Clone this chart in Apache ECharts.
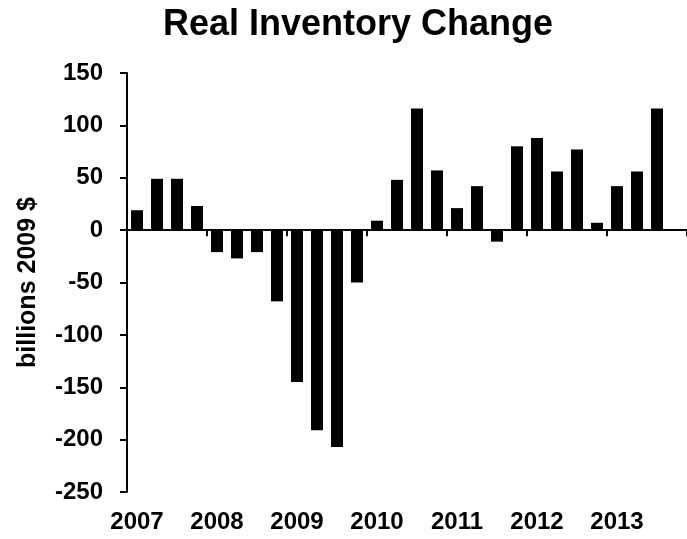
<!DOCTYPE html>
<html>
<head>
<meta charset="utf-8">
<script src="https://cdn.jsdelivr.net/npm/echarts@6/dist/echarts.min.js"></script>
<style>
html,body{margin:0;padding:0;background:#fff;}
#c{width:687px;height:539px;}
</style>
</head>
<body>
<div id="c"></div>
<script>
var quarters = ['2007Q1','2007Q2','2007Q3','2007Q4','2008Q1','2008Q2','2008Q3','2008Q4',
  '2009Q1','2009Q2','2009Q3','2009Q4','2010Q1','2010Q2','2010Q3','2010Q4',
  '2011Q1','2011Q2','2011Q3','2011Q4','2012Q1','2012Q2','2012Q3','2012Q4',
  '2013Q1','2013Q2','2013Q3','2013Q4'];
var inventoryChange = [19, 49, 49, 23, -21, -27, -21, -68,
  -145, -191, -207, -50, 9, 48, 116, 57,
  21, 42, -11, 80, 88, 56, 77, 7,
  42, 56, 116, null];
var yearLabels = ['2007','2008','2009','2010','2011','2012','2013'];
var yTicks = [-250, -200, -150, -100, -50, 0, 50, 100, 150];

var FONT = '"Liberation Sans", Arial, sans-serif';
var chart = echarts.init(document.getElementById('c'));
chart.setOption({
  animation: false,
  backgroundColor: '#fff',
  title: {
    text: 'Real Inventory Change',
    left: 353,
    textAlign: 'center',
    top: 2,
    textStyle: {fontFamily: FONT, fontWeight: 'bold', fontSize: 36, color: '#000'}
  },
  grid: {left: 127, right: 0, top: 73, bottom: 47},
  xAxis: [{
    type: 'category',
    data: quarters,
    boundaryGap: true,
    axisLine: {onZero: true, lineStyle: {color: '#000', width: 2}},
    axisTick: {show: true, interval: 3, length: 6, lineStyle: {color: '#000', width: 2}},
    axisLabel: {show: false}
  }, {
    type: 'category',
    data: quarters,
    position: 'bottom',
    boundaryGap: true,
    axisLine: {show: false, onZero: false},
    axisTick: {show: false},
    axisLabel: {
      show: true,
      interval: 0,
      margin: 18,
      fontFamily: FONT, fontWeight: 'bold', fontSize: 24, color: '#000',
      formatter: function (v, i) {
        return (i % 4 === 0) ? yearLabels[i / 4] : '';
      }
    }
  }],
  yAxis: {
    type: 'value',
    min: yTicks[0],
    max: yTicks[yTicks.length - 1],
    interval: 50,
    name: 'billions 2009 $',
    nameLocation: 'middle',
    nameRotate: 90,
    nameGap: 86,
    nameTextStyle: {fontFamily: FONT, fontWeight: 'bold', fontSize: 25, color: '#000'},
    axisLine: {show: true, lineStyle: {color: '#000', width: 2}},
    axisTick: {show: true, length: 7, lineStyle: {color: '#000', width: 2}},
    axisLabel: {margin: 24, fontFamily: FONT, fontWeight: 'bold', fontSize: 24, color: '#000'},
    splitLine: {show: false}
  },
  series: [{
    type: 'bar',
    data: inventoryChange,
    barWidth: 12,
    itemStyle: {color: '#000'}
  }]
});
</script>
</body>
</html>
